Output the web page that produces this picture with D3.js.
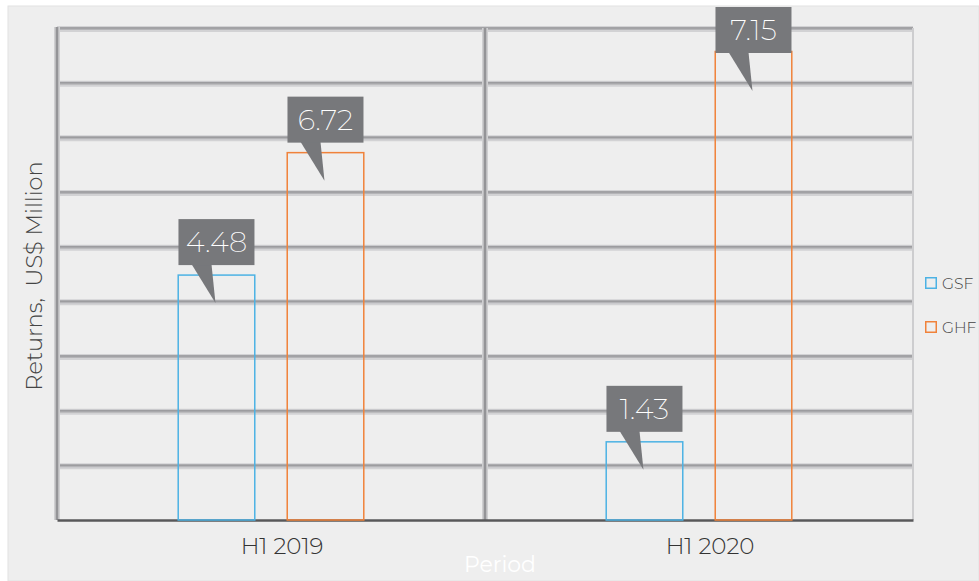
<!DOCTYPE html>
<html>
<head>
<meta charset="utf-8">
<script src="https://cdn.jsdelivr.net/npm/d3@7"></script>
<style>
  html, body { margin: 0; padding: 0; background: #ffffff; }
  svg { display: block; }
</style>
</head>
<body>
<svg id="chart" width="979" height="581"></svg>
<script>
// ---- data ----
const categories = ["H1 2019", "H1 2020"];
const seriesNames = ["GSF", "GHF"];
const gsfValues = [4.48, 1.43];
const ghfValues = [6.72, 8.57];
const gsfLabels = ["4.48", "1.43"];
const ghfLabels = ["6.72", "7.15"];
const yTicks = [0, 1, 2, 3, 4, 5, 6, 7, 8, 9];
const yTitle = "Returns,  US$ Million";
const xTitle = "Period";

const colors = { GSF: "#4cb2e4", GHF: "#f0823a" };
const fontFam = "Montserrat, Lato, 'Open Sans', sans-serif";

const svg = d3.select("#chart");
const W = 979, H = 581;
const m = { left: 57, right: 66, top: 28, bottom: 61 };
const pw = W - m.left - m.right, ph = H - m.top - m.bottom;

// panel background
svg.append("rect").attr("x", 8).attr("y", 6).attr("width", W - 8).attr("height", H - 6)
  .attr("fill", "#eeeeee").attr("stroke", "#e2e2e2").attr("stroke-width", 1);

const g = svg.append("g").attr("transform", `translate(${m.left},${m.top})`);

const x0 = d3.scaleBand().domain(categories).range([0, pw]).padding(0);
const x1 = d3.scaleBand().domain(seriesNames).range([0, x0.bandwidth()])
  .paddingInner(0.284).paddingOuter(1.105);
const y = d3.scaleLinear().domain([0, 9]).range([ph, 0]);

// gridlines (shaded thick lines)
function shadedH(yy) {
  g.append("line").attr("x1", 0).attr("x2", pw).attr("y1", yy + 1).attr("y2", yy + 1)
    .attr("stroke", "#d2d2d4").attr("stroke-width", 6);
  g.append("line").attr("x1", 0).attr("x2", pw).attr("y1", yy + 0.5).attr("y2", yy + 0.5)
    .attr("stroke", "#b4b4b7").attr("stroke-width", 3);
  g.append("line").attr("x1", 0).attr("x2", pw).attr("y1", yy).attr("y2", yy)
    .attr("stroke", "#9c9c9f").attr("stroke-width", 1.5);
}
function shadedV(xx, y1, y2) {
  g.append("line").attr("x1", xx).attr("x2", xx).attr("y1", y1).attr("y2", y2)
    .attr("stroke", "#cfcfd1").attr("stroke-width", 6);
  g.append("line").attr("x1", xx).attr("x2", xx).attr("y1", y1).attr("y2", y2)
    .attr("stroke", "#a9a9ac").attr("stroke-width", 3);
  g.append("line").attr("x1", xx).attr("x2", xx).attr("y1", y1).attr("y2", y2)
    .attr("stroke", "#8e8e91").attr("stroke-width", 1.5);
}
yTicks.filter(t => t > 0).forEach(t => shadedH(y(t)));
// right border
g.append("line").attr("x1", pw).attr("x2", pw).attr("y1", 0).attr("y2", ph)
  .attr("stroke", "#cdcdcf").attr("stroke-width", 2);
// category separator and left axis
shadedV(x0.bandwidth(), 0, ph);
shadedV(0, -1, ph);

// bottom axis
const xAxis = d3.axisBottom(x0).tickSize(0).tickPadding(18);
const xa = g.append("g").attr("transform", `translate(0,${ph})`).call(xAxis);
xa.select(".domain").attr("stroke", "#58585a").attr("stroke-width", 2.5);
xa.selectAll("text").attr("font-family", fontFam).attr("font-size", 23)
  .attr("font-weight", 300).attr("fill", "#333").attr("dx", 11);

// bars
const rows = categories.map((c, i) => ({
  cat: c,
  items: [
    { s: "GSF", v: gsfValues[i], label: gsfLabels[i] },
    { s: "GHF", v: ghfValues[i], label: ghfLabels[i] }
  ]
}));
const grp = g.selectAll(".grp").data(rows).join("g")
  .attr("transform", d => `translate(${x0(d.cat)},0)`);
grp.selectAll("rect").data(d => d.items).join("rect")
  .attr("x", d => x1(d.s) + 0.75)
  .attr("y", d => y(d.v))
  .attr("width", x1.bandwidth() - 1.5)
  .attr("height", d => ph - y(d.v))
  .attr("fill", "none")
  .attr("stroke", d => colors[d.s])
  .attr("stroke-width", 1.5);

// callouts
const boxW = 76, boxH = 46;
grp.each(function (d) {
  const gg = d3.select(this);
  d.items.forEach(it => {
    const top = y(it.v);
    const bx = x1(it.s) + 1;
    const bb = Math.max(-21 + boxH, top - 10); // box bottom (kept inside panel)
    const by = bb - boxH;
    const tipX = bx + 37, tipY = bb + 38;
    gg.append("path")
      .attr("d", `M${bx + 13},${bb - 1} L${tipX},${tipY} L${bx + 33},${bb - 1} Z`)
      .attr("fill", "#77787b");
    gg.append("rect").attr("x", bx).attr("y", by).attr("width", boxW).attr("height", boxH)
      .attr("fill", "#77787b");
    gg.append("text").attr("x", bx + boxW / 2).attr("y", by + boxH / 2 + 10)
      .attr("text-anchor", "middle").attr("font-family", fontFam).attr("font-weight", 200)
      .attr("font-size", 29).attr("fill", "#ffffff").text(it.label);
  });
});

// y title
svg.append("text").attr("transform", `translate(42,${m.top + ph / 2 + 2}) rotate(-90)`)
  .attr("text-anchor", "middle").attr("font-family", fontFam).attr("font-weight", 300)
  .attr("font-size", 22.5).attr("fill", "#444").attr("xml:space", "preserve").text(yTitle);

// x title
svg.append("text").attr("x", 500).attr("y", 572).attr("text-anchor", "middle")
  .attr("font-family", fontFam).attr("font-size", 22).attr("fill", "#ffffff").text(xTitle);

// legend
const lg = svg.append("g").attr("transform", "translate(925,277)");
seriesNames.forEach((s, i) => {
  const r = lg.append("g").attr("transform", `translate(0,${i * 44})`);
  r.append("rect").attr("x", 0.75).attr("y", 0.75).attr("width", 10.5).attr("height", 10.5)
    .attr("fill", "none").attr("stroke", colors[s]).attr("stroke-width", 1.5);
  r.append("text").attr("x", 17).attr("y", 11.5).attr("font-family", fontFam)
    .attr("font-weight", 300).attr("font-size", 15.5).attr("fill", "#444").text(s);
});
</script>
</body>
</html>
